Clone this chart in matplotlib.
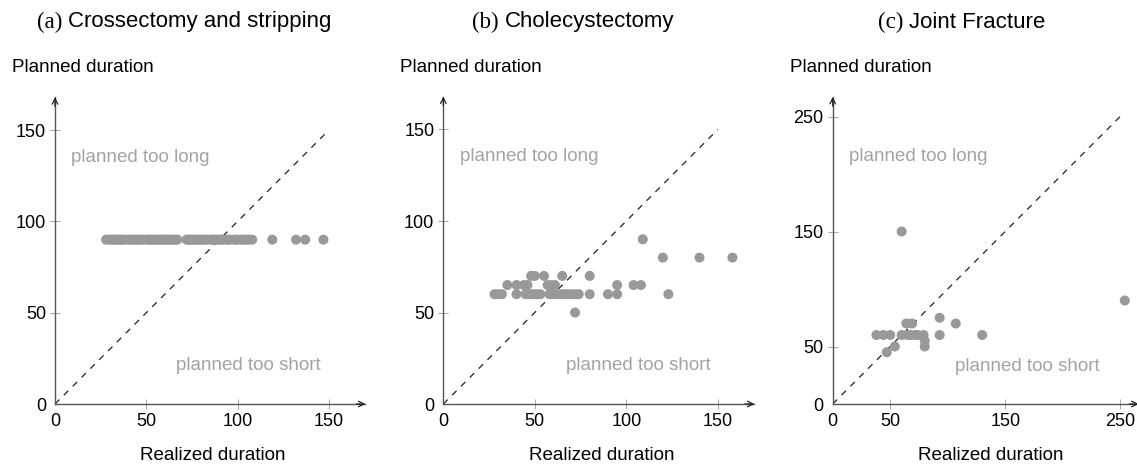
import matplotlib.pyplot as plt

W, H = 1137, 469

# (a) Crossectomy and stripping: planned duration is 90 for every case
a_realized = [28, 30, 31, 32, 33, 34, 35, 36, 37, 38, 40, 41, 42, 43, 44, 45, 46, 47,
              48, 50, 51, 52, 53, 54, 55, 56, 57, 58, 59, 60, 61, 62, 63, 64, 65, 66, 67,
              72, 73, 74, 75, 76, 77, 78, 79, 80, 81, 82, 83, 85, 86, 87, 88, 89, 90,
              91, 92, 94, 95, 96, 98, 99, 100, 102, 103, 105, 106, 108,
              119, 132, 137, 147]
a_planned = [90] * len(a_realized)

# (b) Cholecystectomy
b_realized = [28, 30, 32, 40, 45, 47, 49, 51, 53, 58, 60, 62, 64, 66, 68, 70, 72, 74, 80, 90, 95, 123,
              35, 40, 44, 46, 57, 59, 61, 95, 104, 108,
              48, 50, 55, 65, 80,
              72, 109, 120, 140, 158]
b_planned = [60] * 22 + [65] * 10 + [70] * 5 + [50, 90, 80, 80, 80]

# (c) Joint Fracture
c_realized = [38, 44, 50, 60, 65, 68, 72, 74, 79, 93, 130,
              64, 69, 107, 93, 80, 80, 54, 47, 60, 254]
c_planned = [60] * 11 + [70, 70, 70, 75, 55, 50, 50, 45, 150, 90]

panels = [
    dict(tag="(a)", name="Crossectomy and stripping", x=a_realized, y=a_planned,
         left=55, xmax=170, ymax=168, scale=1.826, ticks=[0, 50, 100, 150], diag=150,
         long_xy=(9, 135), short_xy=(66.5, 21), title_x=184),
    dict(tag="(b)", name="Cholecystectomy", x=b_realized, y=b_planned,
         left=443.3, xmax=170, ymax=168, scale=1.83, ticks=[0, 50, 100, 150], diag=150,
         long_xy=(9, 135), short_xy=(67, 21), title_x=573),
    dict(tag="(c)", name="Joint Fracture", x=c_realized, y=c_planned,
         left=832.7, xmax=266, ymax=267, scale=1.15, ticks=[0, 50, 150, 250], diag=250,
         long_xy=(14.5, 215), short_xy=(106, 33), title_x=962),
]

sans = "Liberation Sans"
serif = "Liberation Serif"
grey_pt = "#999999"
grey_txt = "#a3a3a3"
axis_col = "#555555"

fig = plt.figure(figsize=(W / 100, H / 100), dpi=100)
origin_y = 404
titles = []

for p in panels:
    w = p["xmax"] * p["scale"]
    h = p["ymax"] * p["scale"]
    ax = fig.add_axes([p["left"] / W, (H - origin_y) / H, w / W, h / H])
    ax.set_xlim(0, p["xmax"])
    ax.set_ylim(0, p["ymax"])
    for s in ["top", "right"]:
        ax.spines[s].set_visible(False)
    for s in ["left", "bottom"]:
        ax.spines[s].set_color(axis_col)
        ax.spines[s].set_linewidth(1.0)
    ax.set_xticks(p["ticks"])
    ax.set_yticks(p["ticks"])
    ax.tick_params(direction="inout", length=7, width=0.8, color="#aaaaaa",
                   labelsize=13, pad=3)
    for lab in ax.get_xticklabels() + ax.get_yticklabels():
        lab.set_fontfamily(sans)
    ax.xaxis.get_major_ticks()[0].tick1line.set_visible(False)
    ax.yaxis.get_major_ticks()[0].tick1line.set_visible(False)

    # axis arrows
    ax.annotate("", xy=(1, 0), xytext=(0.97, 0), xycoords="axes fraction",
                arrowprops=dict(arrowstyle="->", color="#222222", lw=0.9,
                                shrinkA=0, shrinkB=0), annotation_clip=False)
    ax.annotate("", xy=(0, 1), xytext=(0, 0.97), xycoords="axes fraction",
                arrowprops=dict(arrowstyle="->", color="#222222", lw=0.9,
                                shrinkA=0, shrinkB=0), annotation_clip=False)

    ax.plot([0, p["diag"]], [0, p["diag"]], color="#222222", lw=0.9,
            linestyle=(0, (5, 5)))
    ax.scatter(p["x"], p["y"], s=52, color=grey_pt, edgecolors="none", zorder=3,
               clip_on=False)

    ax.text(p["long_xy"][0], p["long_xy"][1], "planned too long", color=grey_txt,
            fontsize=13.5, family=sans, va="center", ha="left")
    ax.text(p["short_xy"][0], p["short_xy"][1], "planned too short", color=grey_txt,
            fontsize=13.5, family=sans, va="center", ha="left")

    fig.text((p["left"] - 43) / W, 1 - 68 / H, "Planned duration", fontsize=13.5,
             family=sans, va="center", ha="left")
    fig.text((p["left"] + 158) / W, 1 - 455 / H, "Realized duration", fontsize=13.5,
             family=sans, va="center", ha="center")

    # title: serif tag, sans name
    t_tag = fig.text(p["title_x"] / W, 1 - 22 / H, p["tag"] + " ", fontsize=16.5,
                     family=serif, va="center", ha="right")
    t_name = fig.text(p["title_x"] / W, 1 - 22 / H, p["name"], fontsize=16,
                      family=sans, va="center", ha="left")
    titles.append((t_tag, t_name, p))

fig.canvas.draw()
r = fig.canvas.get_renderer()
# shift each title so the combined string is centred
for t_tag, t_name, p in titles:
    w_tag = t_tag.get_window_extent(r).width
    w_name = t_name.get_window_extent(r).width
    start = p["title_x"] - (w_tag + w_name) / 2
    t_tag.set_x((start + w_tag) / W)
    t_name.set_x((start + w_tag) / W)

fig.savefig("out.png", dpi=100)
